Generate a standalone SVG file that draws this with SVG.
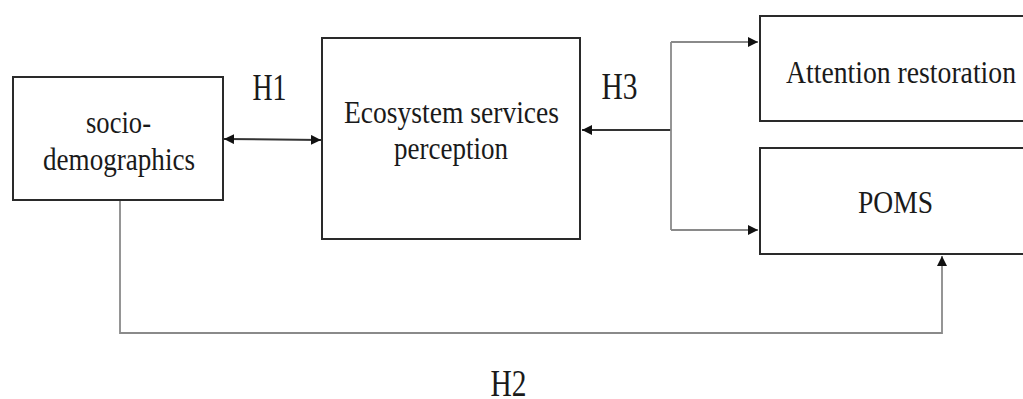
<svg xmlns="http://www.w3.org/2000/svg" width="1023" height="399" viewBox="0 0 1023 399">
<style>
.box{fill:#fff;stroke:#2a2a2a;stroke-width:2}
.t{font-family:"Liberation Serif","Times New Roman",serif;fill:#1a1a1a;font-size:31px}
.h{font-family:"Liberation Serif","Times New Roman",serif;fill:#1a1a1a;font-size:38px}
.c{fill:none;stroke:#8a8a8a;stroke-width:1.8}
.cd{fill:none;stroke:#333;stroke-width:2}
</style>
<defs>
<marker id="ah" viewBox="0 0 10 10" refX="10" refY="5" markerWidth="10" markerHeight="10" markerUnits="userSpaceOnUse" orient="auto-start-reverse">
<path d="M0,0 L10,5 L0,10 Z" fill="#111"/>
</marker>
</defs>
<rect width="1023" height="399" fill="#fff"/>
<g id="connectors">
<path class="cd" d="M224,139 L321,140" marker-start="url(#ah)" marker-end="url(#ah)"/>
<path class="cd" d="M671,130 L582,130" marker-end="url(#ah)"/>
<path class="c" d="M671,42 L671,230"/>
<path class="c" d="M671,42 L758,42" marker-end="url(#ah)"/>
<path class="c" d="M671,230 L758,230" marker-end="url(#ah)"/>
<path class="c" d="M120,201 L120,333 L942,333 L942,256" marker-end="url(#ah)"/>
</g>
<g id="socio">
<rect class="box" x="13" y="77" width="210" height="123"/>
<text class="t" x="118.5" y="133" text-anchor="middle" textLength="65" lengthAdjust="spacingAndGlyphs">socio-</text>
<text class="t" x="119" y="170" text-anchor="middle" textLength="152" lengthAdjust="spacingAndGlyphs">demographics</text>
</g>
<g id="ecosystem">
<rect class="box" x="322" y="38" width="258" height="201"/>
<text class="t" x="451.5" y="123" text-anchor="middle" textLength="215" lengthAdjust="spacingAndGlyphs">Ecosystem services</text>
<text class="t" x="451" y="159" text-anchor="middle" textLength="114" lengthAdjust="spacingAndGlyphs">perception</text>
</g>
<g id="attention">
<rect class="box" x="760" y="16" width="275" height="105"/>
<text class="t" x="901" y="83" text-anchor="middle" textLength="230" lengthAdjust="spacingAndGlyphs">Attention restoration</text>
</g>
<g id="poms">
<rect class="box" x="760" y="148" width="275" height="106"/>
<text class="t" x="895.5" y="213" text-anchor="middle" textLength="75" lengthAdjust="spacingAndGlyphs">POMS</text>
</g>
<g id="labels">
<text class="h" x="269.5" y="100" text-anchor="middle" textLength="34" lengthAdjust="spacingAndGlyphs">H1</text>
<text class="h" x="619.5" y="99" text-anchor="middle" textLength="36" lengthAdjust="spacingAndGlyphs">H3</text>
<text class="h" x="508.5" y="396" text-anchor="middle" textLength="36" lengthAdjust="spacingAndGlyphs">H2</text>
</g>
</svg>
